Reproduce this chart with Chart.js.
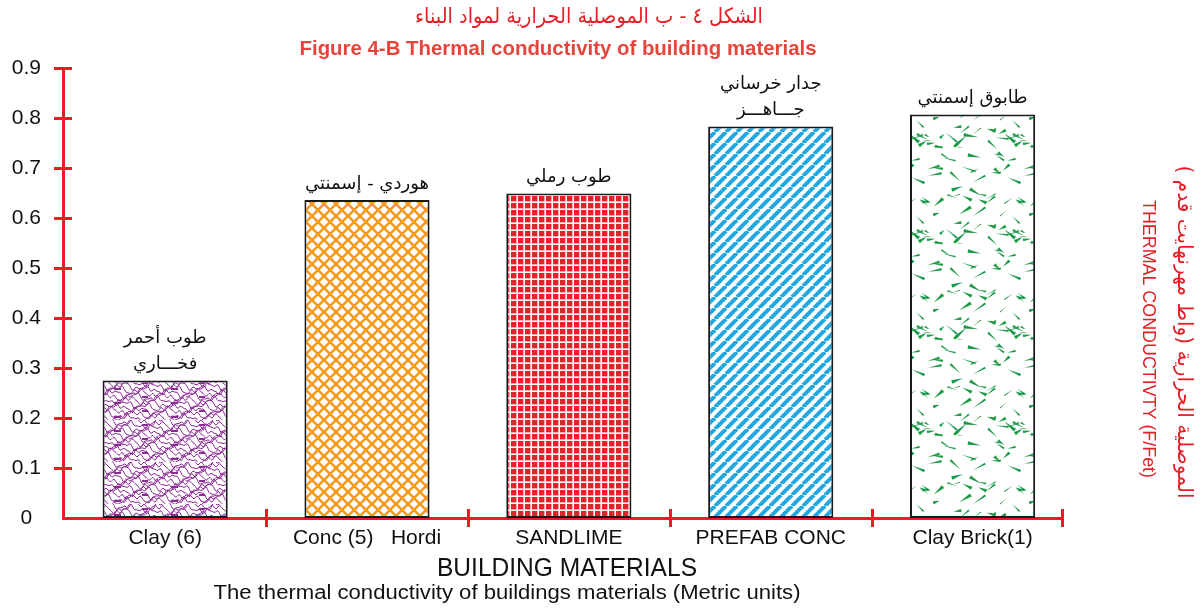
<!DOCTYPE html>
<html><head><meta charset="utf-8">
<script src="https://cdn.jsdelivr.net/npm/chart.js@4.4.1/dist/chart.umd.min.js"></script>
<style>html,body{margin:0;padding:0;background:#fff;}#wrap{width:1204px;height:609px;position:relative;}</style>
</head><body><div id="wrap"><canvas id="c"></canvas></div>
<script>
// ---- data ----
const categories = ['Clay (6)', 'Conc (5)   Hordi', 'SANDLIME', 'PREFAB CONC', 'Clay Brick(1)'];
const conductivity = [0.275, 0.636, 0.649, 0.783, 0.807];
const arabicNames = [['طوب أحمر', 'فخـــاري'], ['هوردي - إسمنتي'], ['طوب رملي'], ['جدار خرساني', 'جـــاهـــز'], ['طابوق إسمنتي']];
const yMin = 0, yMax = 0.9, yStep = 0.1;
const titleArabic = 'الشكل ٤ - ب الموصلية الحرارية لمواد البناء';
const titleEnglish = 'Figure 4-B Thermal conductivity of building materials';
const xTitle = 'BUILDING MATERIALS';
const xSubtitle = 'The thermal conductivity of buildings materials (Metric units)';
const yTitleArabic = 'الموصلية الحرارية (واط مهرنهايت قدم )';
const yTitleEnglish = 'THERMAL CONDUCTIVTY (F/Fet)';

// ---- styles ----
const RED = '#ec1c24';
const FONT = '"Liberation Sans", Arial, sans-serif';
const AFONT = '"DejaVu Sans", "Noto Sans", sans-serif';

function tile(w, h, draw) {
  const c = document.createElement('canvas'); c.width = w; c.height = h;
  const g = c.getContext('2d'); g.fillStyle = '#fff'; g.fillRect(0, 0, w, h); draw(g, w, h); return c;
}
const main = document.getElementById('c').getContext('2d');

const clayTile = tile(57, 42, (g, w, h) => {
  g.strokeStyle = '#8c2b96'; g.lineWidth = 1.0;
  for (let r = 0; r < 12; r++) {
    g.beginPath();
    for (let x = 0; x <= w; x++) {
      const y = r * 3.5 + 1.5 + 2.8 * Math.sin(2 * Math.PI * 2 * x / w + r * 1.3) + 1.8 * Math.sin(2 * Math.PI * 5 * x / w + r * 2.1) + 0.9 * Math.sin(2 * Math.PI * 9 * x / w + r);
      x === 0 ? g.moveTo(x, y) : g.lineTo(x, y);
    }
    g.stroke();
  }
  g.fillStyle = '#8c2b96';
  for (let k = 0; k < 3; k++) { g.fillRect(0, 10 + k * 14, 7, 2); g.fillRect(28, 4 + k * 14, 6, 2); }
});
const latticeTile = tile(12, 12, (g, w, h) => {
  g.strokeStyle = '#f7981d'; g.lineWidth = 2.6;
  for (const o of [-w, 0, w]) {
    g.beginPath(); g.moveTo(o, 0); g.lineTo(o + w, h); g.stroke();
    g.beginPath(); g.moveTo(o + w, 0); g.lineTo(o, h); g.stroke();
  }
});
const gridTile = tile(7, 7, (g, w, h) => {
  g.fillStyle = '#e8202a'; g.fillRect(0, 0, w, h);
  g.fillStyle = '#fff'; g.fillRect(5.4, 0, 1.6, h); g.fillRect(0, 5.4, w, 1.6);
});
const stripeTile = tile(11, 11, (g, w, h) => {
  g.strokeStyle = '#22a8e0'; g.lineWidth = 4.0;
  for (const o of [-w, 0, w]) { g.beginPath(); g.moveTo(o, h); g.lineTo(o + w, 0); g.stroke(); }
});
const shardTile = tile(96, 96, (g, w, h) => {
  let seed = 23;
  const rnd = () => { seed = (seed * 16807) % 2147483647; return (seed - 1) / 2147483646; };
  g.fillStyle = '#1c9a48';
  for (let i = 0; i < 60; i++) {
    const x = rnd() * w, y = rnd() * h, a = (rnd() - 0.5) * 1.6 + (rnd() < 0.5 ? 0 : Math.PI), L = 5 + rnd() * 10, b = 0.4 + rnd() * 1.5;
    const ex = x + L * Math.cos(a), ey = y + L * Math.sin(a);
    const px = -Math.sin(a) * b, py = Math.cos(a) * b;
    for (const dx of [0, -w, w]) for (const dy of [0, -h, h]) {
      g.beginPath(); g.moveTo(x + px + dx, y + py + dy); g.lineTo(x - px + dx, y - py + dy); g.lineTo(ex + dx, ey + dy); g.closePath(); g.fill();
    }
  }
});
const barPatterns = [clayTile, latticeTile, gridTile, stripeTile, shardTile].map(t => main.createPattern(t, 'repeat'));

function fitText(ctx, str, cx, cy, font, color, w, opts) {
  opts = opts || {};
  ctx.save();
  ctx.font = font; ctx.fillStyle = color; ctx.textAlign = 'center'; ctx.textBaseline = 'middle';
  ctx.direction = opts.rtl ? 'rtl' : 'ltr';
  if (opts.filter) ctx.filter = opts.filter;
  ctx.translate(cx, cy);
  if (opts.rotate) ctx.rotate(opts.rotate);
  const m = ctx.measureText(str).width;
  if (w) ctx.scale(w / m, 1);
  ctx.fillText(str, 0, 0);
  ctx.restore();
}

const decor = {
  id: 'decor',
  afterDatasetsDraw(chart) {
    const ctx = chart.ctx;
    const meta = chart.getDatasetMeta(0);
    meta.data.forEach((bar, i) => {
      const lines = arabicNames[i];
      lines.forEach((ln, j) => {
        const cy = bar.y - 16 - (lines.length - 1 - j) * 26;
        fitText(ctx, ln, bar.x, cy, '18px ' + AFONT, '#111', null, { rtl: true });
      });
    });
  },
  afterDraw(chart) {
    const ctx = chart.ctx, x = chart.scales.x, y = chart.scales.y, area = chart.chartArea;
    ctx.save();
    ctx.strokeStyle = RED; ctx.lineWidth = 3;
    y.ticks.forEach(t => {
      if (t.value === 0) return;
      const py = Math.round(y.getPixelForValue(t.value)) + 0.5;
      ctx.beginPath(); ctx.moveTo(area.left - 9, py); ctx.lineTo(area.left + 9, py); ctx.stroke();
    });
    const seps = categories.slice(0, -1).map((_, i) => i + 0.5).concat([x.max]);
    seps.forEach(v => {
      const px = Math.round(x.getPixelForValue(v)) + 0.5;
      ctx.beginPath(); ctx.moveTo(px, area.bottom - 9); ctx.lineTo(px, area.bottom + 9); ctx.stroke();
    });
    ctx.restore();
    fitText(ctx, titleArabic, 589, 18, '21px ' + AFONT, '#e31e24', 348, { rtl: true });
    fitText(ctx, titleEnglish, 558, 49, 'bold 21px ' + FONT, '#e5453c', 517, { filter: 'blur(0.5px)' });
    fitText(ctx, xTitle, 567, 569, '26px ' + FONT, '#111', 260);
    fitText(ctx, xSubtitle, 507, 593, '20px ' + FONT, '#111', 587);
    fitText(ctx, yTitleArabic, 1183, 332, '21px ' + AFONT, '#e31e24', 333, { rtl: true, rotate: Math.PI / 2 });
    fitText(ctx, yTitleEnglish, 1148, 339, '19px ' + FONT, '#e31e24', 278, { rotate: Math.PI / 2 });
  }
};

new Chart(document.getElementById('c'), {
  type: 'bar',
  data: {
    datasets: [{
      data: conductivity.map((v, i) => ({ x: i, y: v })),
      backgroundColor: barPatterns,
      borderColor: '#1a1a1a', borderWidth: 2, borderSkipped: false,
      barPercentage: 0.62, categoryPercentage: 1
    }]
  },
  options: {
    responsive: true, maintainAspectRatio: false, animation: false, devicePixelRatio: 1,
    layout: { padding: { top: 68, right: 142, left: 0, bottom: 0 } },
    plugins: { legend: { display: false }, tooltip: { enabled: false } },
    scales: {
      x: {
        type: 'linear', min: -0.506, max: 4.443, offset: false,
        grid: { display: false, offset: false },
        border: { display: true, color: RED, width: 3 },
        afterBuildTicks: s => { s.ticks = categories.map((_, i) => ({ value: i })); },
        afterFit: s => { s.height = 91; },
        ticks: { callback: v => categories[v], color: '#111', font: { family: FONT, size: 21 }, padding: 0, autoSkip: false, maxRotation: 0 }
      },
      y: {
        min: yMin, max: yMax,
        grid: { display: false },
        border: { display: true, color: RED, width: 3 },
        afterFit: s => { s.width = 63; },
        ticks: { stepSize: yStep, callback: v => (v === 0 ? '0' : v.toFixed(1)), color: '#111', font: { family: FONT, size: 21 }, crossAlign: 'center', padding: 14 }
      }
    }
  },
  plugins: [decor]
});
</script></body></html>
